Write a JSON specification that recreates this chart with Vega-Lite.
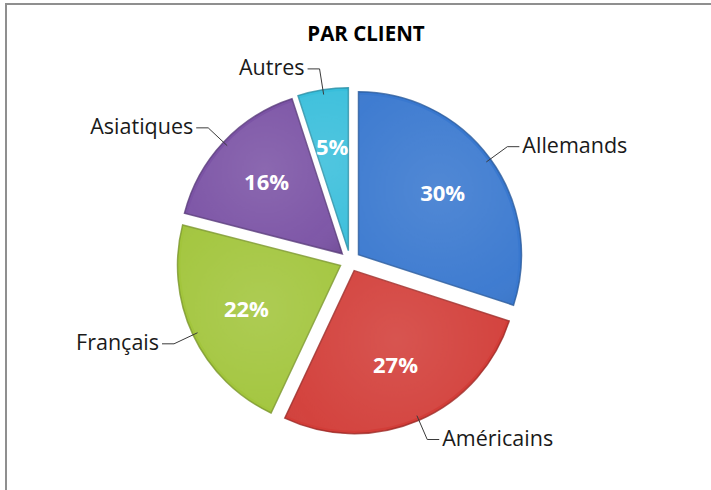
{
  "$schema": "https://vega.github.io/schema/vega-lite/v6.json",
  "autosize": {"type": "none"},
  "padding": {"left": 6, "top": 4, "right": 0, "bottom": 0},
  "width": 720,
  "height": 500,
  "background": "white",
  "view": {"stroke": "#8f8f8f", "strokeWidth": 2, "fill": "white"},
  "title": {
    "text": "PAR CLIENT",
    "font": "Open Sans",
    "fontSize": 20.5,
    "fontWeight": "bold",
    "color": "#000000",
    "anchor": "middle",
    "baseline": "alphabetic",
    "offset": -57
  },
  "data": {
    "values": [
      {"client": "Allemands", "value": 30},
      {"client": "Américains", "value": 27},
      {"client": "Français", "value": 22},
      {"client": "Asiatiques", "value": 16},
      {"client": "Autres", "value": 5}
    ]
  },
  "transform": [
    {"window": [{"op": "sum", "field": "value", "as": "cum"}], "frame": [null, 0]},
    {"calculate": "datum.cum - datum.value", "as": "start"},
    {"calculate": "(datum.cum - datum.value / 2) / 100 * 2 * PI", "as": "mid"},
    {"calculate": "sin(datum.mid)", "as": "s"},
    {"calculate": "cos(datum.mid)", "as": "c"},
    {"calculate": "10.5 * datum.s", "as": "ex"},
    {"calculate": "10.5 * datum.c", "as": "ey"},
    {"calculate": "datum.ex + 104 * datum.s", "as": "tx"},
    {"calculate": "datum.ey + 104 * datum.c", "as": "ty"},
    {"calculate": "datum.ex + 158 * datum.s", "as": "p1x"},
    {"calculate": "datum.ey + 158 * datum.c", "as": "p1y"},
    {"calculate": "datum.ex + 184 * datum.s", "as": "p2x"},
    {"calculate": "datum.ey + 184 * datum.c", "as": "p2y"},
    {"calculate": "datum.p2x + (datum.s >= 0 ? 12 : -12)", "as": "p3x"},
    {"calculate": "datum.p3x + (datum.s >= 0 ? 3 : -3)", "as": "lx"},
    {"calculate": "datum.value + '%'", "as": "pct"}
  ],
  "layer": [
    {
      "mark": {"type": "arc", "outerRadius": 163, "strokeWidth": 1.5, "strokeOpacity": 0.8},
      "encoding": {
        "x": {"field": "ex", "type": "quantitative", "stack": null, "scale": {"domain": [-344, 376], "nice": false, "zero": false}, "axis": null},
        "y": {"field": "ey", "type": "quantitative", "stack": null, "scale": {"domain": [-243, 257], "nice": false, "zero": false}, "axis": null},
        "theta": {"field": "start", "type": "quantitative", "stack": null, "scale": {"domain": [0, 100], "range": [0, 6.283185307]}},
        "theta2": {"field": "cum"},
        "color": {
          "field": "client", "type": "nominal", "legend": null,
          "scale": {
            "domain": ["Allemands", "Américains", "Français", "Asiatiques", "Autres"],
            "range": ["#3978cf", "#d23d38", "#a2c53c", "#7b53a5", "#38bedb"]
          }
        },
        "stroke": {
          "field": "client", "type": "nominal", "legend": null,
          "scale": {
            "domain": ["Allemands", "Américains", "Français", "Asiatiques", "Autres"],
            "range": ["#2a5b9c", "#9c2b27", "#7a962c", "#5a3c7c", "#2a8ea5"]
          }
        }
      }
    },
    {
      "mark": {
        "type": "arc", "outerRadius": 160,
        "fill": {
          "gradient": "radial", "x1": 0.5, "y1": 0.45, "r1": 0, "x2": 0.5, "y2": 0.45, "r2": 0.75,
          "stops": [
            {"offset": 0, "color": "rgba(255,255,255,0.12)"},
            {"offset": 0.7, "color": "rgba(255,255,255,0.03)"},
            {"offset": 1, "color": "rgba(0,0,0,0.10)"}
          ]
        }
      },
      "encoding": {
        "x": {"field": "ex", "type": "quantitative", "stack": null, "scale": {"domain": [-344, 376], "nice": false, "zero": false}, "axis": null},
        "y": {"field": "ey", "type": "quantitative", "stack": null, "scale": {"domain": [-243, 257], "nice": false, "zero": false}, "axis": null},
        "theta": {"field": "start", "type": "quantitative", "stack": null, "scale": {"domain": [0, 100], "range": [0, 6.283185307]}},
        "theta2": {"field": "cum"}
      }
    },
    {
      "mark": {"type": "text", "font": "Open Sans", "fontSize": 22, "fontWeight": "bold", "fill": "white", "align": "center", "baseline": "middle"},
      "encoding": {
        "x": {"field": "tx", "type": "quantitative", "stack": null, "scale": {"domain": [-344, 376], "nice": false, "zero": false}, "axis": null},
        "y": {"field": "ty", "type": "quantitative", "stack": null, "scale": {"domain": [-243, 257], "nice": false, "zero": false}, "axis": null},
        "text": {"field": "pct"}
      }
    },
    {
      "mark": {"type": "rule", "stroke": "#3a3a3a", "strokeWidth": 1},
      "encoding": {
        "x": {"field": "p1x", "type": "quantitative", "stack": null, "scale": {"domain": [-344, 376], "nice": false, "zero": false}, "axis": null},
        "y": {"field": "p1y", "type": "quantitative", "stack": null, "scale": {"domain": [-243, 257], "nice": false, "zero": false}, "axis": null},
        "x2": {"field": "p2x"},
        "y2": {"field": "p2y"}
      }
    },
    {
      "mark": {"type": "rule", "stroke": "#3a3a3a", "strokeWidth": 1},
      "encoding": {
        "x": {"field": "p2x", "type": "quantitative", "stack": null, "scale": {"domain": [-344, 376], "nice": false, "zero": false}, "axis": null},
        "y": {"field": "p2y", "type": "quantitative", "stack": null, "scale": {"domain": [-243, 257], "nice": false, "zero": false}, "axis": null},
        "x2": {"field": "p3x"},
        "y2": {"field": "p2y"}
      }
    },
    {
      "transform": [{"filter": "datum.s >= 0"}],
      "mark": {"type": "text", "font": "Open Sans", "fontSize": 21.5, "fill": "#1a1a1a", "align": "left", "baseline": "middle"},
      "encoding": {
        "x": {"field": "lx", "type": "quantitative", "stack": null, "scale": {"domain": [-344, 376], "nice": false, "zero": false}, "axis": null},
        "y": {"field": "p2y", "type": "quantitative", "stack": null, "scale": {"domain": [-243, 257], "nice": false, "zero": false}, "axis": null},
        "text": {"field": "client"}
      }
    },
    {
      "transform": [{"filter": "datum.s < 0"}],
      "mark": {"type": "text", "font": "Open Sans", "fontSize": 21.5, "fill": "#1a1a1a", "align": "right", "baseline": "middle"},
      "encoding": {
        "x": {"field": "lx", "type": "quantitative", "stack": null, "scale": {"domain": [-344, 376], "nice": false, "zero": false}, "axis": null},
        "y": {"field": "p2y", "type": "quantitative", "stack": null, "scale": {"domain": [-243, 257], "nice": false, "zero": false}, "axis": null},
        "text": {"field": "client"}
      }
    }
  ]
}
